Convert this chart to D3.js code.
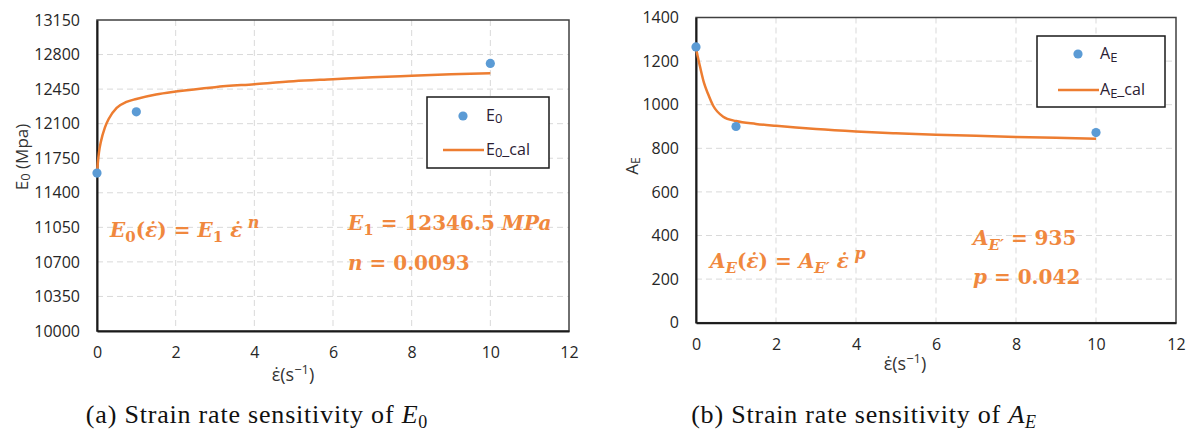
<!DOCTYPE html>
<html>
<head>
<meta charset="utf-8">
<script src="https://cdn.jsdelivr.net/npm/d3@7"></script>
<style>
  html, body { margin: 0; padding: 0; background: #fff; }
  svg { display: block; }
  .tick text { font-family: "Open Sans", sans-serif; font-size: 16px; fill: #262626; }
</style>
</head>
<body>
<svg id="chart" width="1193" height="437"></svg>
<script>
// ---------- data ----------
// Panel (a): E0 vs strain rate
const rateObs = [0, 1, 10];
const e0Obs = [11600, 12220, 12710];
const e0CalRate = [0, 0.02, 0.05, 0.1, 0.2, 0.3, 0.5, 0.75, 1, 1.5, 2, 3, 4, 5, 6, 7, 8, 9, 10];
const e0CalVal  = [11600, 11700, 11810, 11920, 12060, 12150, 12260, 12320, 12350, 12395, 12425, 12470, 12500, 12530, 12550, 12570, 12585, 12600, 12612];
const e0YTicks = [10000, 10350, 10700, 11050, 11400, 11750, 12100, 12450, 12800, 13150];

// Panel (b): AE vs strain rate
const aeObs = [1265, 900, 872];
const aeCalRate = [0, 0.05, 0.1, 0.2, 0.3, 0.43, 0.68, 1, 1.5, 2, 3, 4, 5, 6, 7, 8, 9, 10];
const aeCalVal  = [1260, 1215, 1175, 1100, 1050, 995, 945, 925, 912, 903, 888, 877, 869, 862, 857, 852, 848, 844];
const aeYTicks = [0, 200, 400, 600, 800, 1000, 1200, 1400];

const xTicks = [0, 2, 4, 6, 8, 10, 12];

const BLUE = "#5B9BD5", ORANGE = "#ED7D31", ANNO = "#F0883E";

const svg = d3.select("#chart");

function panel(cfg) {
  const g = svg.append("g");
  const x = d3.scaleLinear().domain([0, 12]).range([cfg.left, cfg.right]);
  const y = d3.scaleLinear().domain(cfg.yDomain).range([cfg.bottom, cfg.top]);

  // grid
  g.append("g").selectAll("line.h").data(cfg.yTicks.slice(1, -1)).join("line")
    .attr("x1", cfg.left).attr("x2", cfg.right)
    .attr("y1", d => y(d)).attr("y2", d => y(d))
    .attr("stroke", "#d9d9d9").attr("stroke-width", 1).attr("stroke-dasharray", "6,4");
  g.append("g").selectAll("line.v").data(xTicks.slice(1, -1)).join("line")
    .attr("x1", d => x(d)).attr("x2", d => x(d))
    .attr("y1", cfg.top).attr("y2", cfg.bottom)
    .attr("stroke", "#d9d9d9").attr("stroke-width", 1).attr("stroke-dasharray", "6,4");

  // frame
  g.append("rect").attr("x", cfg.left).attr("y", cfg.top)
    .attr("width", cfg.right - cfg.left).attr("height", cfg.bottom - cfg.top)
    .attr("fill", "none").attr("stroke", "#404040").attr("stroke-width", 1.5);

  // axes
  const ya = g.append("g").attr("transform", `translate(${cfg.left},0)`)
    .call(d3.axisLeft(y).tickValues(cfg.yTicks).tickSize(0).tickPadding(17).tickFormat(d3.format("d")));
  ya.select(".domain").attr("stroke", "#1a1a1a").attr("stroke-width", 2);
  const xa = g.append("g").attr("transform", `translate(0,${cfg.bottom})`)
    .call(d3.axisBottom(x).tickValues(xTicks).tickSize(0).tickPadding(16).tickFormat(d3.format("d")));
  xa.select(".domain").attr("stroke", "#1a1a1a").attr("stroke-width", 2);

  // fitted curve
  const line = d3.line().x((d, i) => x(cfg.calX[i])).y(d => y(d)).curve(d3.curveMonotoneX);
  g.append("path").datum(cfg.calY).attr("d", line)
    .attr("fill", "none").attr("stroke", ORANGE).attr("stroke-width", 2.5);

  // observed points
  g.append("g").selectAll("circle").data(cfg.obs).join("circle")
    .attr("cx", (d, i) => x(rateObs[i])).attr("cy", d => y(d)).attr("r", 4.6)
    .attr("fill", BLUE);

  // x axis title
  const xt = g.append("text").attr("x", cfg.xTitle[0]).attr("y", cfg.xTitle[1])
    .attr("text-anchor", "middle")
    .style("font-family", "Open Sans, sans-serif").style("font-size", "18px").attr("fill", "#333");
  xt.append("tspan").text("\u03b5\u0307(s");
  xt.append("tspan").attr("dy", -7).style("font-size", "13px").text("\u22121");
  xt.append("tspan").attr("dy", 7).text(")");

  // y axis title
  const yt = g.append("text")
    .attr("transform", `translate(${cfg.yTitle[0]},${cfg.yTitle[1]}) rotate(-90)`)
    .attr("text-anchor", "middle")
    .style("font-family", "Open Sans, sans-serif").style("font-size", "17px").attr("fill", "#333");
  cfg.yTitleParts(yt);

  // legend
  const L = cfg.legend;
  g.append("rect").attr("x", L.x0).attr("y", L.y0).attr("width", L.x1 - L.x0).attr("height", L.y1 - L.y0)
    .attr("fill", "#fff").attr("stroke", "#1a1a1a").attr("stroke-width", 1.5);
  g.append("circle").attr("cx", L.mx).attr("cy", L.my1).attr("r", 4.6).attr("fill", BLUE);
  g.append("line").attr("x1", L.lx0).attr("x2", L.lx1).attr("y1", L.my2).attr("y2", L.my2)
    .attr("stroke", ORANGE).attr("stroke-width", 2.5);
  const t1 = g.append("text").attr("x", L.tx).attr("y", L.my1 + 5)
    .style("font-family", "Open Sans, sans-serif").style("font-size", "16px").attr("fill", "#2b2033");
  cfg.legendParts(t1, false);
  const t2 = g.append("text").attr("x", L.tx).attr("y", L.my2 + 5)
    .style("font-family", "Open Sans, sans-serif").style("font-size", "16px").attr("fill", "#2b2033");
  cfg.legendParts(t2, true);

  // caption
  const cap = svg.append("text").attr("x", cfg.caption[0]).attr("y", cfg.caption[1])
    .attr("text-anchor", "middle")
    .style("font-family", "Liberation Serif, serif").style("font-size", "26px")
    .style("letter-spacing", "0.8px").attr("fill", "#111");
  cfg.captionParts(cap);

  // annotations
  cfg.annos.forEach(a => {
    const t = g.append("text").attr("x", a.x).attr("y", a.y)
      .style("font-family", "DejaVu Serif, serif").style("font-size", "20px")
      .style("font-weight", "bold").attr("fill", ANNO);
    a.parts.forEach(p => {
      const s = t.append("tspan").text(p.t);
      if (p.i) s.style("font-style", "italic");
      if (p.dy) s.attr("dy", p.dy);
      if (p.fs) s.style("font-size", p.fs + "px");
    });
  });
}

const EPS = "\u03b5\u0307";

panel({
  left: 97, right: 569, top: 20, bottom: 331,
  yDomain: [10000, 13150], yTicks: e0YTicks,
  calX: e0CalRate, calY: e0CalVal, obs: e0Obs,
  xTitle: [293, 381], yTitle: [28, 157],
  yTitleParts: t => { t.append("tspan").text("E"); t.append("tspan").style("font-size", "13px").attr("dy", 2).text("0"); t.append("tspan").attr("dy", -2).text(" (Mpa)"); },
  legend: { x0: 427, y0: 97, x1: 549, y1: 168, mx: 463, my1: 116, my2: 150, lx0: 443, lx1: 484, tx: 486 },
  legendParts: (t, cal) => { t.append("tspan").text("E"); t.append("tspan").style("font-size", "13px").attr("dy", 2).text("0"); if (cal) t.append("tspan").attr("dy", -2).text("_cal"); },
  caption: [257, 423],
  captionParts: t => { t.append("tspan").text("(a) Strain rate sensitivity of "); t.append("tspan").style("font-style", "italic").text("E"); t.append("tspan").attr("dy", 5).style("font-size", "18px").text("0"); },
  annos: [
    { x: 110, y: 237, parts: [ {t: "E", i: 1}, {t: "0", dy: 5, fs: 15}, {t: "(", dy: -5}, {t: EPS, i: 1}, {t: ") = "}, {t: "E", i: 1}, {t: "1", dy: 5, fs: 15}, {t: " " + EPS, dy: -5, i: 1}, {t: " n", dy: -9, i: 1, fs: 16} ] },
    { x: 348, y: 230, parts: [ {t: "E", i: 1}, {t: "1", dy: 5, fs: 15}, {t: " = 12346.5 ", dy: -5}, {t: "MPa", i: 1} ] },
    { x: 348, y: 270, parts: [ {t: "n", i: 1}, {t: " = 0.0093"} ] }
  ]
});

panel({
  left: 696, right: 1176, top: 17.5, bottom: 322.7,
  yDomain: [0, 1400], yTicks: aeYTicks,
  calX: aeCalRate, calY: aeCalVal, obs: aeObs,
  xTitle: [905, 370], yTitle: [638, 166],
  yTitleParts: t => { t.append("tspan").text("A"); t.append("tspan").style("font-size", "12px").attr("dy", 2).text("E"); },
  legend: { x0: 1037, y0: 36, x1: 1165, y1: 107, mx: 1078, my1: 54, my2: 90, lx0: 1058, lx1: 1099, tx: 1100 },
  legendParts: (t, cal) => { t.append("tspan").text("A"); t.append("tspan").style("font-size", "13px").attr("dy", 3).text("E"); if (cal) t.append("tspan").attr("dy", -3).text("_cal"); },
  caption: [864, 423],
  captionParts: t => { t.append("tspan").text("(b) Strain rate sensitivity of "); t.append("tspan").style("font-style", "italic").text("A"); t.append("tspan").attr("dy", 5).style("font-size", "18px").style("font-style", "italic").text("E"); },
  annos: [
    { x: 710, y: 268, parts: [ {t: "A", i: 1}, {t: "E", dy: 5, fs: 15, i: 1}, {t: "(", dy: -5}, {t: EPS, i: 1}, {t: ") = "}, {t: "A", i: 1}, {t: "E\u2032", dy: 5, fs: 15, i: 1}, {t: " " + EPS, dy: -5, i: 1}, {t: " p", dy: -9, i: 1, fs: 16} ] },
    { x: 973, y: 245, parts: [ {t: "A", i: 1}, {t: "E\u2032", dy: 5, fs: 15, i: 1}, {t: " = 935", dy: -5} ] },
    { x: 973, y: 284, parts: [ {t: "p", i: 1}, {t: " = 0.042"} ] }
  ]
});
</script>
</body>
</html>
